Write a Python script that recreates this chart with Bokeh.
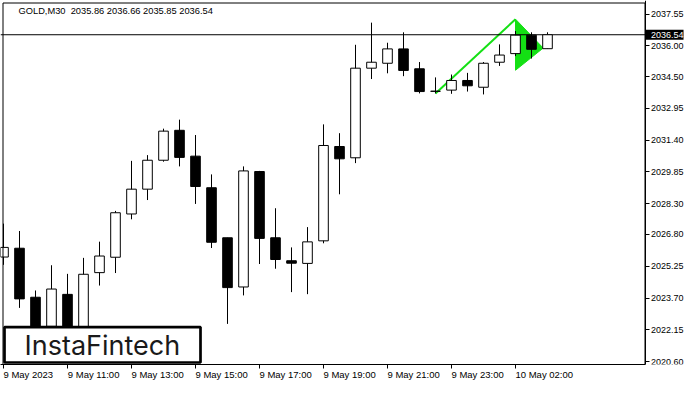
from bokeh.plotting import figure
from bokeh.models import (Range1d, FixedTicker, PrintfTickFormatter, Label,
                          BoxAnnotation, ColumnDataSource, LinearAxis)
from bokeh.embed import file_html
from bokeh.resources import INLINE

# ---------------- data ----------------
symbol = "GOLD"
timeframe = "M30"

opens = [2025.70, 2026.13, 2023.74, 2022.32, 2023.88, 2021.80, 2024.94, 2025.69,
         2027.80, 2029.01, 2030.42, 2031.88, 2030.62, 2029.08, 2026.64, 2024.24,
         2029.87, 2026.64, 2025.52, 2025.39, 2026.49, 2031.09, 2030.54, 2034.91,
         2035.15, 2035.85, 2034.88, 2033.79, 2033.84, 2034.31, 2033.98, 2035.20,
         2035.62, 2036.52, 2035.86]
highs = [2027.33, 2026.97, 2024.07, 2025.30, 2024.88, 2025.66, 2026.45, 2027.95,
         2030.39, 2030.67, 2031.96, 2032.40, 2031.65, 2029.73, 2026.64, 2030.12,
         2029.90, 2028.08, 2026.17, 2027.16, 2032.17, 2031.74, 2036.05, 2037.13,
         2036.15, 2036.66, 2035.21, 2034.46, 2034.60, 2034.68, 2035.21, 2036.07,
         2036.72, 2036.66, 2036.66]
lows = [2025.32, 2023.22, 2021.60, 2021.90, 2021.50, 2021.60, 2024.31, 2024.92,
        2027.54, 2028.48, 2030.35, 2030.12, 2028.29, 2026.14, 2022.44, 2023.83,
        2025.36, 2025.13, 2023.99, 2023.89, 2026.37, 2028.76, 2030.28, 2034.38,
        2034.66, 2034.52, 2033.68, 2033.68, 2033.66, 2033.77, 2033.63, 2035.02,
        2035.50, 2035.38, 2035.85]
closes = [2026.17, 2023.66, 2022.10, 2024.14, 2021.95, 2024.86, 2025.75, 2027.86,
          2029.01, 2030.42, 2031.84, 2030.56, 2029.14, 2026.42, 2024.21, 2029.90,
          2026.61, 2025.58, 2025.40, 2026.44, 2031.14, 2030.49, 2034.91, 2035.20,
          2035.85, 2034.80, 2033.77, 2033.78, 2034.31, 2034.05, 2035.15, 2035.55,
          2036.52, 2035.83, 2036.54]

time_tick_index = [0, 4, 8, 12, 16, 20, 24, 28, 32]
time_tick_labels = ["9 May 2023", "9 May 11:00", "9 May 13:00", "9 May 15:00",
                    "9 May 17:00", "9 May 19:00", "9 May 21:00", "9 May 23:00",
                    "10 May 02:00"]

price_ticks = [2037.55, 2036.00, 2034.50, 2032.95, 2031.40, 2029.85,
               2028.30, 2026.80, 2025.25, 2023.70, 2022.15, 2020.60]

pennant_pole_x = [27, 32]
pennant_pole_y = [2033.68, 2037.30]
pennant_flag_x = [32, 32, 33.73]
pennant_flag_y = [2037.30, 2034.81, 2035.89]

brand = "InstaFintech"

# ---------------- layout (pixels) ----------------
FRAME_W, FRAME_H = 684, 364      # plotting area (whole width, above the time axis)
BOX_L_PX, BOX_T_PX = 2.5, 2.5    # chart border, left/top
AXIS_PX = 644.5                  # price scale line
BAR0_PX = 3.0                    # x of bar 0
PX_PER_BAR = 16.0
Y_LOW, Y_HIGH = 2020.46, 2038.21  # visible price span
GREEN = "#14E014"
AXIS_FONT = "Liberation Sans"

x_start = -BAR0_PX / PX_PER_BAR
x_end = x_start + FRAME_W / PX_PER_BAR


def x_at(px):
    return x_start + px / PX_PER_BAR


def y_at(py):
    return Y_HIGH - py / FRAME_H * (Y_HIGH - Y_LOW)


axis_x = x_at(AXIS_PX)

p = figure(frame_width=FRAME_W, frame_height=FRAME_H,
           output_backend="svg", toolbar_location=None,
           x_range=Range1d(x_start, x_end), y_range=Range1d(Y_LOW, Y_HIGH),
           y_axis_location=None,
           min_border_left=0, min_border_top=0, min_border_right=0, min_border_bottom=0,
           background_fill_color="white", border_fill_color="white",
           outline_line_color=None)
p.grid.visible = False

# pennant
p.patch(x=pennant_flag_x, y=pennant_flag_y, fill_color=GREEN, line_color=GREEN, line_width=1)
p.line(x=pennant_pole_x, y=pennant_pole_y, line_color=GREEN, line_width=2)

# current price line (up to the price scale)
p.segment(x0=[x_start], x1=[axis_x], y0=[closes[-1]], y1=[closes[-1]],
          line_color="black", line_width=1)

# candles
idx = list(range(len(opens)))
src = ColumnDataSource(dict(
    i=idx, o=opens, h=highs, l=lows, c=closes,
    top=[max(o, c) for o, c in zip(opens, closes)],
    bottom=[min(o, c) for o, c in zip(opens, closes)],
    fill=["white" if c >= o else "black" for o, c in zip(opens, closes)],
))
p.segment(x0="i", y0="l", x1="i", y1="h", source=src, line_color="black", line_width=1)
p.vbar(x="i", width=0.6, top="top", bottom="bottom", source=src,
       fill_color="fill", line_color="black", line_width=1)

# chart border (top / left)
p.add_layout(BoxAnnotation(left=x_at(BOX_L_PX), right=axis_x, top=y_at(BOX_T_PX), bottom=Y_LOW,
                           fill_alpha=0.0, line_color="black", line_alpha=1.0, line_width=1))

# ---------------- axes ----------------
X_FS = 9.5
ARIAL_W = {" ": 0.278, "M": 0.833, "a": 0.556, "y": 0.5, ":": 0.278}


def text_px(s, fs):
    return sum(ARIAL_W.get(ch, 0.556) for ch in s) * fs


label_pos = []
for t, lab in zip(time_tick_index, time_tick_labels):
    left = max(t, x_at(BOX_L_PX + 0.5))
    label_pos.append(round(left + text_px(lab, X_FS) / 2 / PX_PER_BAR, 4))

xa = p.xaxis[0]
xa.ticker = FixedTicker(ticks=label_pos, minor_ticks=time_tick_index)
xa.major_label_overrides = {pos: lab for pos, lab in zip(label_pos, time_tick_labels)}
xa.bounds = (x_start, axis_x)
xa.major_tick_out = 0
xa.major_tick_in = 0
xa.minor_tick_out = 4
xa.minor_tick_in = 0
xa.minor_tick_line_color = "black"
xa.axis_line_color = "black"
xa.major_label_standoff = 0
xa.major_label_text_font = AXIS_FONT
xa.major_label_text_font_size = f"{X_FS}px"
xa.major_label_text_color = "black"

ya = LinearAxis(fixed_location=axis_x,
                ticker=FixedTicker(ticks=price_ticks),
                formatter=PrintfTickFormatter(format="%.2f"),
                major_tick_out=4, major_tick_in=0, minor_tick_out=0, minor_tick_in=0,
                major_tick_line_color="black", axis_line_color="black",
                major_label_standoff=2, major_label_text_font=AXIS_FONT,
                major_label_text_font_size="9px", major_label_text_color="black")
p.add_layout(ya, "right")

# ---------------- texts / overlays ----------------
header = (f"{symbol},{timeframe}\u00a0\u00a0{opens[-1]:.2f} {highs[-1]:.2f} "
          f"{lows[-1]:.2f} {closes[-1]:.2f}")
p.add_layout(Label(x=x_at(18), y=y_at(10.8), text=header,
                   text_align="left", text_baseline="middle",
                   text_font=AXIS_FONT, text_font_size="9.3px", text_color="black"))

# current-price tag on the price scale
p.add_layout(Label(x=x_at(AXIS_PX + 1), y=closes[-1],
                   text=f"\u00a0\u00a0{closes[-1]:.2f}",
                   text_align="left", text_baseline="middle",
                   text_font=AXIS_FONT, text_font_size="9px", text_color="white",
                   background_fill_color="black", background_fill_alpha=1.0,
                   padding=0))

box_bottom = FRAME_H - 2
box_h = 35.4
p.add_layout(BoxAnnotation(left=x_at(4.0), right=x_at(200.0),
                           top=y_at(box_bottom - box_h), bottom=y_at(box_bottom),
                           fill_color="white", fill_alpha=1.0,
                           line_color="black", line_alpha=1.0, line_width=2.7))
p.add_layout(Label(x=x_at(101.9), y=y_at(box_bottom - box_h / 2 + 0.5), text=brand,
                   text_align="center", text_baseline="middle",
                   text_font="Inter", text_font_size="27px", text_color="#1a1a1a"))

open("out.html", "w").write(file_html(p, INLINE))
